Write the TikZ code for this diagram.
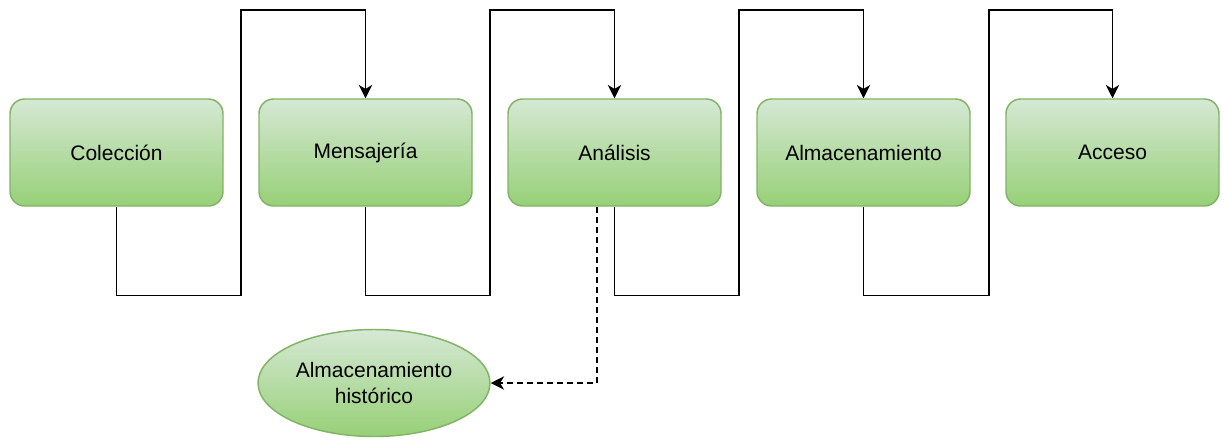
\documentclass[tikz,border=0pt]{standalone}
\usepackage{fontspec}
\setmainfont{Liberation Sans}
\usetikzlibrary{arrows.meta,shapes.geometric,calc}
\definecolor{gtop}{HTML}{D5E8D4}
\definecolor{gbot}{HTML}{97D077}
\definecolor{gline}{HTML}{82B366}
\begin{document}
\begin{tikzpicture}[x=0.75pt,y=-0.75pt,
  stage/.style={draw=gline, line width=1.1pt, rounded corners=11pt, top color=gtop, bottom color=gbot,
    minimum width=159.75pt, minimum height=80.25pt, font=\fontsize{15.75}{19.5}\selectfont, align=center, inner sep=0pt},
  store/.style={ellipse, draw=gline, line width=1.1pt, top color=gtop, bottom color=gbot,
    minimum width=174pt, minimum height=80.25pt, font=\fontsize{15.75}{19.5}\selectfont, align=center, inner sep=0pt},
  flow/.style={draw=black, line width=1.1pt, -{Stealth[length=10pt,width=10pt,inset=3pt]}},
  dflow/.style={draw=black, line width=1.1pt, dash pattern=on 4.5pt off 3pt, -{Stealth[length=10pt,width=10pt,inset=3pt]}}
]
\useasboundingbox (0,0) rectangle (1224,440);
\node[stage] (c) at (116.5,152.5) {Colección};
\node[stage] (m) at (365.5,152.5) {Mensajería};
\node[stage] (a) at (614.5,152.5) {Análisis};
\node[stage] (s) at (863.5,152.5) {Almacenamiento};
\node[stage] (x) at (1112.5,152.5) {Acceso};
\node[store] (h) at (374,383) {Almacenamiento\\histórico};
\coordinate (a1) at (241,10);
\coordinate (a2) at (490,10);
\coordinate (a3) at (739,10);
\coordinate (a4) at (989,10);
\draw[flow] (c.south) -- ++(0,89) -| (a1) -| (m.north);
\draw[flow] (m.south) -- ++(0,89) -| (a2) -| (a.north);
\draw[flow] (a.south) -- ++(0,89) -| (a3) -| (s.north);
\draw[flow] (s.south) -- ++(0,89) -| (a4) -| (x.north);
\coordinate (d0) at ($(a.south)+(-17.5,0)$);
\draw[dflow] (d0) |- (h.east);
\end{tikzpicture}
\end{document}
